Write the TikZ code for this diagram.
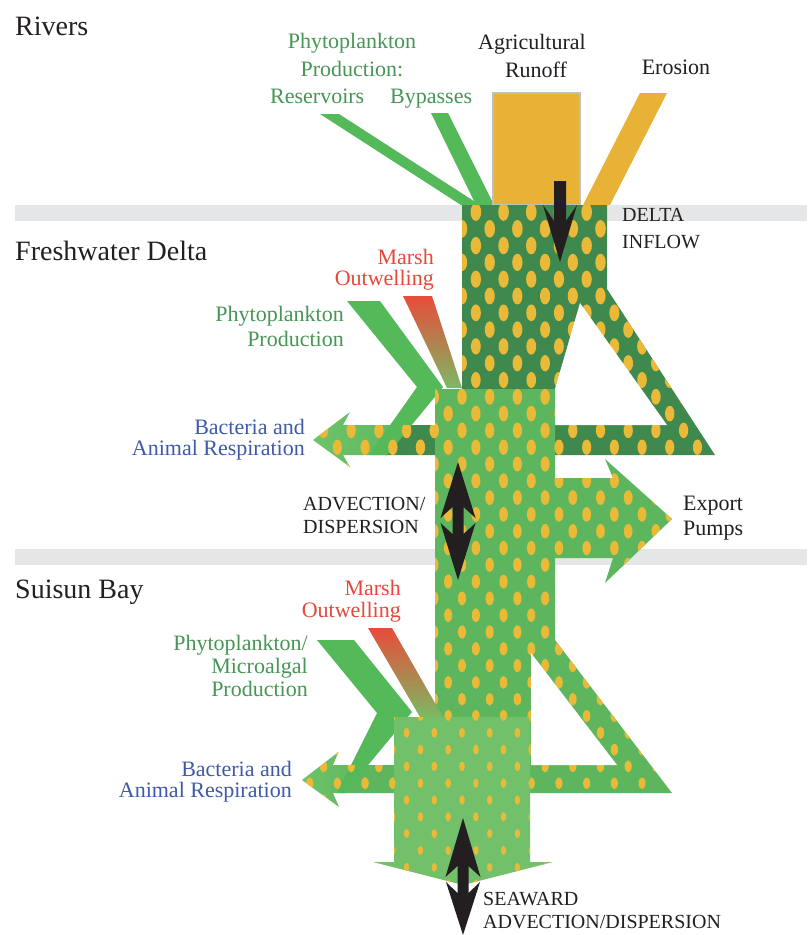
\documentclass[tikz,border=0pt]{standalone}
\usepackage{fontspec}
\setmainfont{Liberation Serif}
\definecolor{dkg}{RGB}{63,137,78}
\definecolor{ltg}{RGB}{93,182,94}
\definecolor{chg}{RGB}{84,185,88}
\definecolor{pbox}{RGB}{115,192,106}
\definecolor{org}{RGB}{232,178,54}
\definecolor{dotc}{RGB}{233,185,55}
\definecolor{bandc}{RGB}{229,230,231}
\definecolor{txg}{RGB}{70,150,85}
\definecolor{txr}{RGB}{232,71,58}
\definecolor{txb}{RGB}{62,91,169}
\definecolor{txk}{RGB}{35,31,32}
\definecolor{mred}{RGB}{232,76,58}
\definecolor{mgrn}{RGB}{125,184,98}
\definecolor{arl}{RGB}{110,195,105}
\newcommand\dotfield[5]{%
  \foreach \jj in {#1,...,#2}{%
    \foreach \kk in {#3,...,#4}{%
      \pgfmathsetmacro\yy{212+16.8*\jj}%
      \pgfmathsetmacro\xx{462+27.7*\kk+13.85*(1-mod(\jj,2))}%
      \pgfmathsetmacro\ry{(8.9-(\yy-210)*0.0052)*#5}%
      \pgfmathsetmacro\rx{0.6*\ry}%
      \fill[dotc] (\xx,\yy) ellipse [x radius=\rx pt, y radius=\ry pt];%
    }}}
\def\pDark{(462,205) -- (607,205) -- (607,289) -- (715,455) -- (385,455) -- (385,425) -- (462,425) -- cycle}
\def\pMain{(435,389) -- (555,389) -- (555,640) -- (672,793) -- (340,793) -- (340,765) -- (435,765) -- cycle}
\def\pExport{(555,478) -- (613,478) -- (605,459) -- (672,519) -- (605,583) -- (613,558) -- (555,558) -- cycle}
\def\pLow{(394,717) -- (530,717) -- (530,862) -- (553,862) -- (463,885) -- (373,862) -- (394,862) -- cycle}
\def\pFArrClip{(313,440) -- (350,412) -- (343,425) -- (435,425) -- (435,455) -- (343,455) -- (350,467) -- cycle}
\def\pSArrClip{(302,780) -- (338.5,752) -- (333,765) -- (394,765) -- (394,793) -- (333,793) -- (339,807) -- cycle}
\begin{document}
\begin{tikzpicture}[x=1pt,y=-1pt,
  lab/.style={font=\fontsize{22}{24}\selectfont, inner sep=0pt},
  ttl/.style={font=\fontsize{28}{30}\selectfont, inner sep=0pt, text=txk},
  capt/.style={font=\fontsize{20}{22}\selectfont, inner sep=0pt, text=txk}]
\useasboundingbox (0,0) rectangle (807,935);
\fill[white] (0,0) rectangle (807,935);
% bands
\fill[bandc] (15,205) rectangle (807,221);
\fill[bandc] (15,549) rectangle (807,565);
% river inputs
\fill[chg] (320,114) -- (339,114) -- (480,205) -- (461,205) -- cycle;
\fill[chg] (431,113) -- (448,113) -- (494,205) -- (476,205) -- cycle;
\fill[org] (640,93) -- (667,93) -- (610,205) -- (583,205) -- cycle;
\filldraw[fill=org, draw=black!25, line width=1.2pt] (493,93) rectangle (580,205);
% dark delta shape
\fill[dkg] \pDark;
\begin{scope}\clip \pDark; \dotfield{0}{15}{-3}{10}{1}\end{scope}
\fill[white] (580,303) -- (544.5,425) -- (667,425) -- cycle;
% freshwater respiration arrow + chevron
\shade[left color=arl, right color=ltg] (313,440) -- (350,412) -- (343,425) -- (412,425) -- (387,455) -- (343,455) -- (350,467) -- cycle;
\fill[chg] (347,301) -- (380,301) -- (443,387) -- (387,455) -- (369,455) -- (417,387) -- cycle;
\begin{scope}\clip \pFArrClip; \dotfield{11}{16}{-6}{0}{1}\end{scope}
\shade[top color=mred, bottom color=mgrn] (403,296) -- (432,296) -- (462,388) -- (447,388) -- cycle;
% main light column + suisun loop
\fill[ltg] \pMain;
\begin{scope}\clip \pMain; \dotfield{10}{35}{-5}{8}{1}\end{scope}
\fill[white] (531,653) -- (531,765) -- (617,765) -- cycle;
% export arrow
\fill[ltg] \pExport;
\begin{scope}\clip \pExport; \dotfield{14}{23}{3}{8}{1}\end{scope}
% suisun respiration arrow + chevron
\shade[left color=arl, right color=ltg] (302,780) -- (338.5,752) -- (333,765) -- (368,765) -- (345,793) -- (333,793) -- (339,807) -- cycle;
\fill[chg] (317,640) -- (354,640) -- (412,712) -- (345,793) -- (337,793) -- (377,713) -- cycle;
\begin{scope}\clip \pSArrClip; \dotfield{31}{36}{-6}{-2}{1}\end{scope}
\shade[top color=mred, bottom color=mgrn] (368,628) -- (392,628) -- (443,717) -- (420,717) -- cycle;
% lower suisun box
\fill[pbox] \pLow;
\begin{scope}\clip \pLow; \dotfield{30}{41}{-3}{3}{0.8}\end{scope}
% black arrows
\fill[txk] (554,181) -- (566,181) -- (566,221) -- (577,205) -- (560,262) -- (543,205) -- (554,221) -- cycle;
\fill[txk] (458,462) -- (475.5,518) -- (463.5,507) -- (463.5,534) -- (475.5,523) -- (458,580) -- (440.5,523) -- (452.5,534) -- (452.5,507) -- (440.5,518) -- cycle;
\fill[txk] (463,818) -- (480.5,877) -- (468.5,866) -- (468.5,893) -- (480,882) -- (463,935) -- (446,882) -- (457.5,893) -- (457.5,866) -- (445.5,877) -- cycle;
% titles
\node[ttl, anchor=base west] (rivers) at (15,35) {Rivers};
\node[ttl, anchor=base west] (fresh) at (15,260) {Freshwater Delta};
\node[ttl, anchor=base west] (suisun) at (15,598) {Suisun Bay};
% river labels
\node[lab, txg, anchor=base] (phy1) at (352,48) {Phytoplankton};
\node[lab, txg, anchor=base] (phy2) at (352,76) {Production:};
\node[lab, txg, anchor=base west] (res) at (270,103) {Reservoirs};
\node[lab, txg, anchor=base west] (byp) at (390,103) {Bypasses};
\node[lab, txk, anchor=base] (agr1) at (532,49) {Agricultural};
\node[lab, txk, anchor=base] (agr2) at (536,77) {Runoff};
\node[lab, txk, anchor=base] (ero) at (676,74) {Erosion};
% freshwater labels
\node[capt, anchor=base west] (dl1) at (622,221) {DELTA};
\node[capt, anchor=base west] (dl2) at (622,248) {INFLOW};
\node[lab, txr, anchor=base east] (fm1) at (434,264) {Marsh};
\node[lab, txr, anchor=base east] (fm2) at (434,285) {Outwelling};
\node[lab, txg, anchor=base east] (fp1) at (344,321) {Phytoplankton};
\node[lab, txg, anchor=base east] (fp2) at (344,346) {Production};
\node[lab, txb, anchor=base east] (fb1) at (305,434) {Bacteria and};
\node[lab, txb, anchor=base east] (fb2) at (305,455) {Animal Respiration};
\node[capt, anchor=base west] (ad1) at (303,510) {ADVECTION/};
\node[capt, anchor=base west] (ad2) at (303,533) {DISPERSION};
\node[lab, txk, anchor=base west] (ex1) at (683,510) {Export};
\node[lab, txk, anchor=base west] (ex2) at (683,535) {Pumps};
% suisun labels
\node[lab, txr, anchor=base east] (sm1) at (401,595) {Marsh};
\node[lab, txr, anchor=base east] (sm2) at (401,617) {Outwelling};
\node[lab, txg, anchor=base east] (sp1) at (308,650) {Phytoplankton/};
\node[lab, txg, anchor=base east] (sp2) at (308,673) {Microalgal};
\node[lab, txg, anchor=base east] (sp3) at (308,696) {Production};
\node[lab, txb, anchor=base east] (sb1) at (292,776) {Bacteria and};
\node[lab, txb, anchor=base east] (sb2) at (292,797) {Animal Respiration};
\node[capt, anchor=base west] (sw1) at (483,905) {SEAWARD};
\node[capt, anchor=base west] (sw2) at (483,928) {ADVECTION/DISPERSION};
\end{tikzpicture}
\end{document}
